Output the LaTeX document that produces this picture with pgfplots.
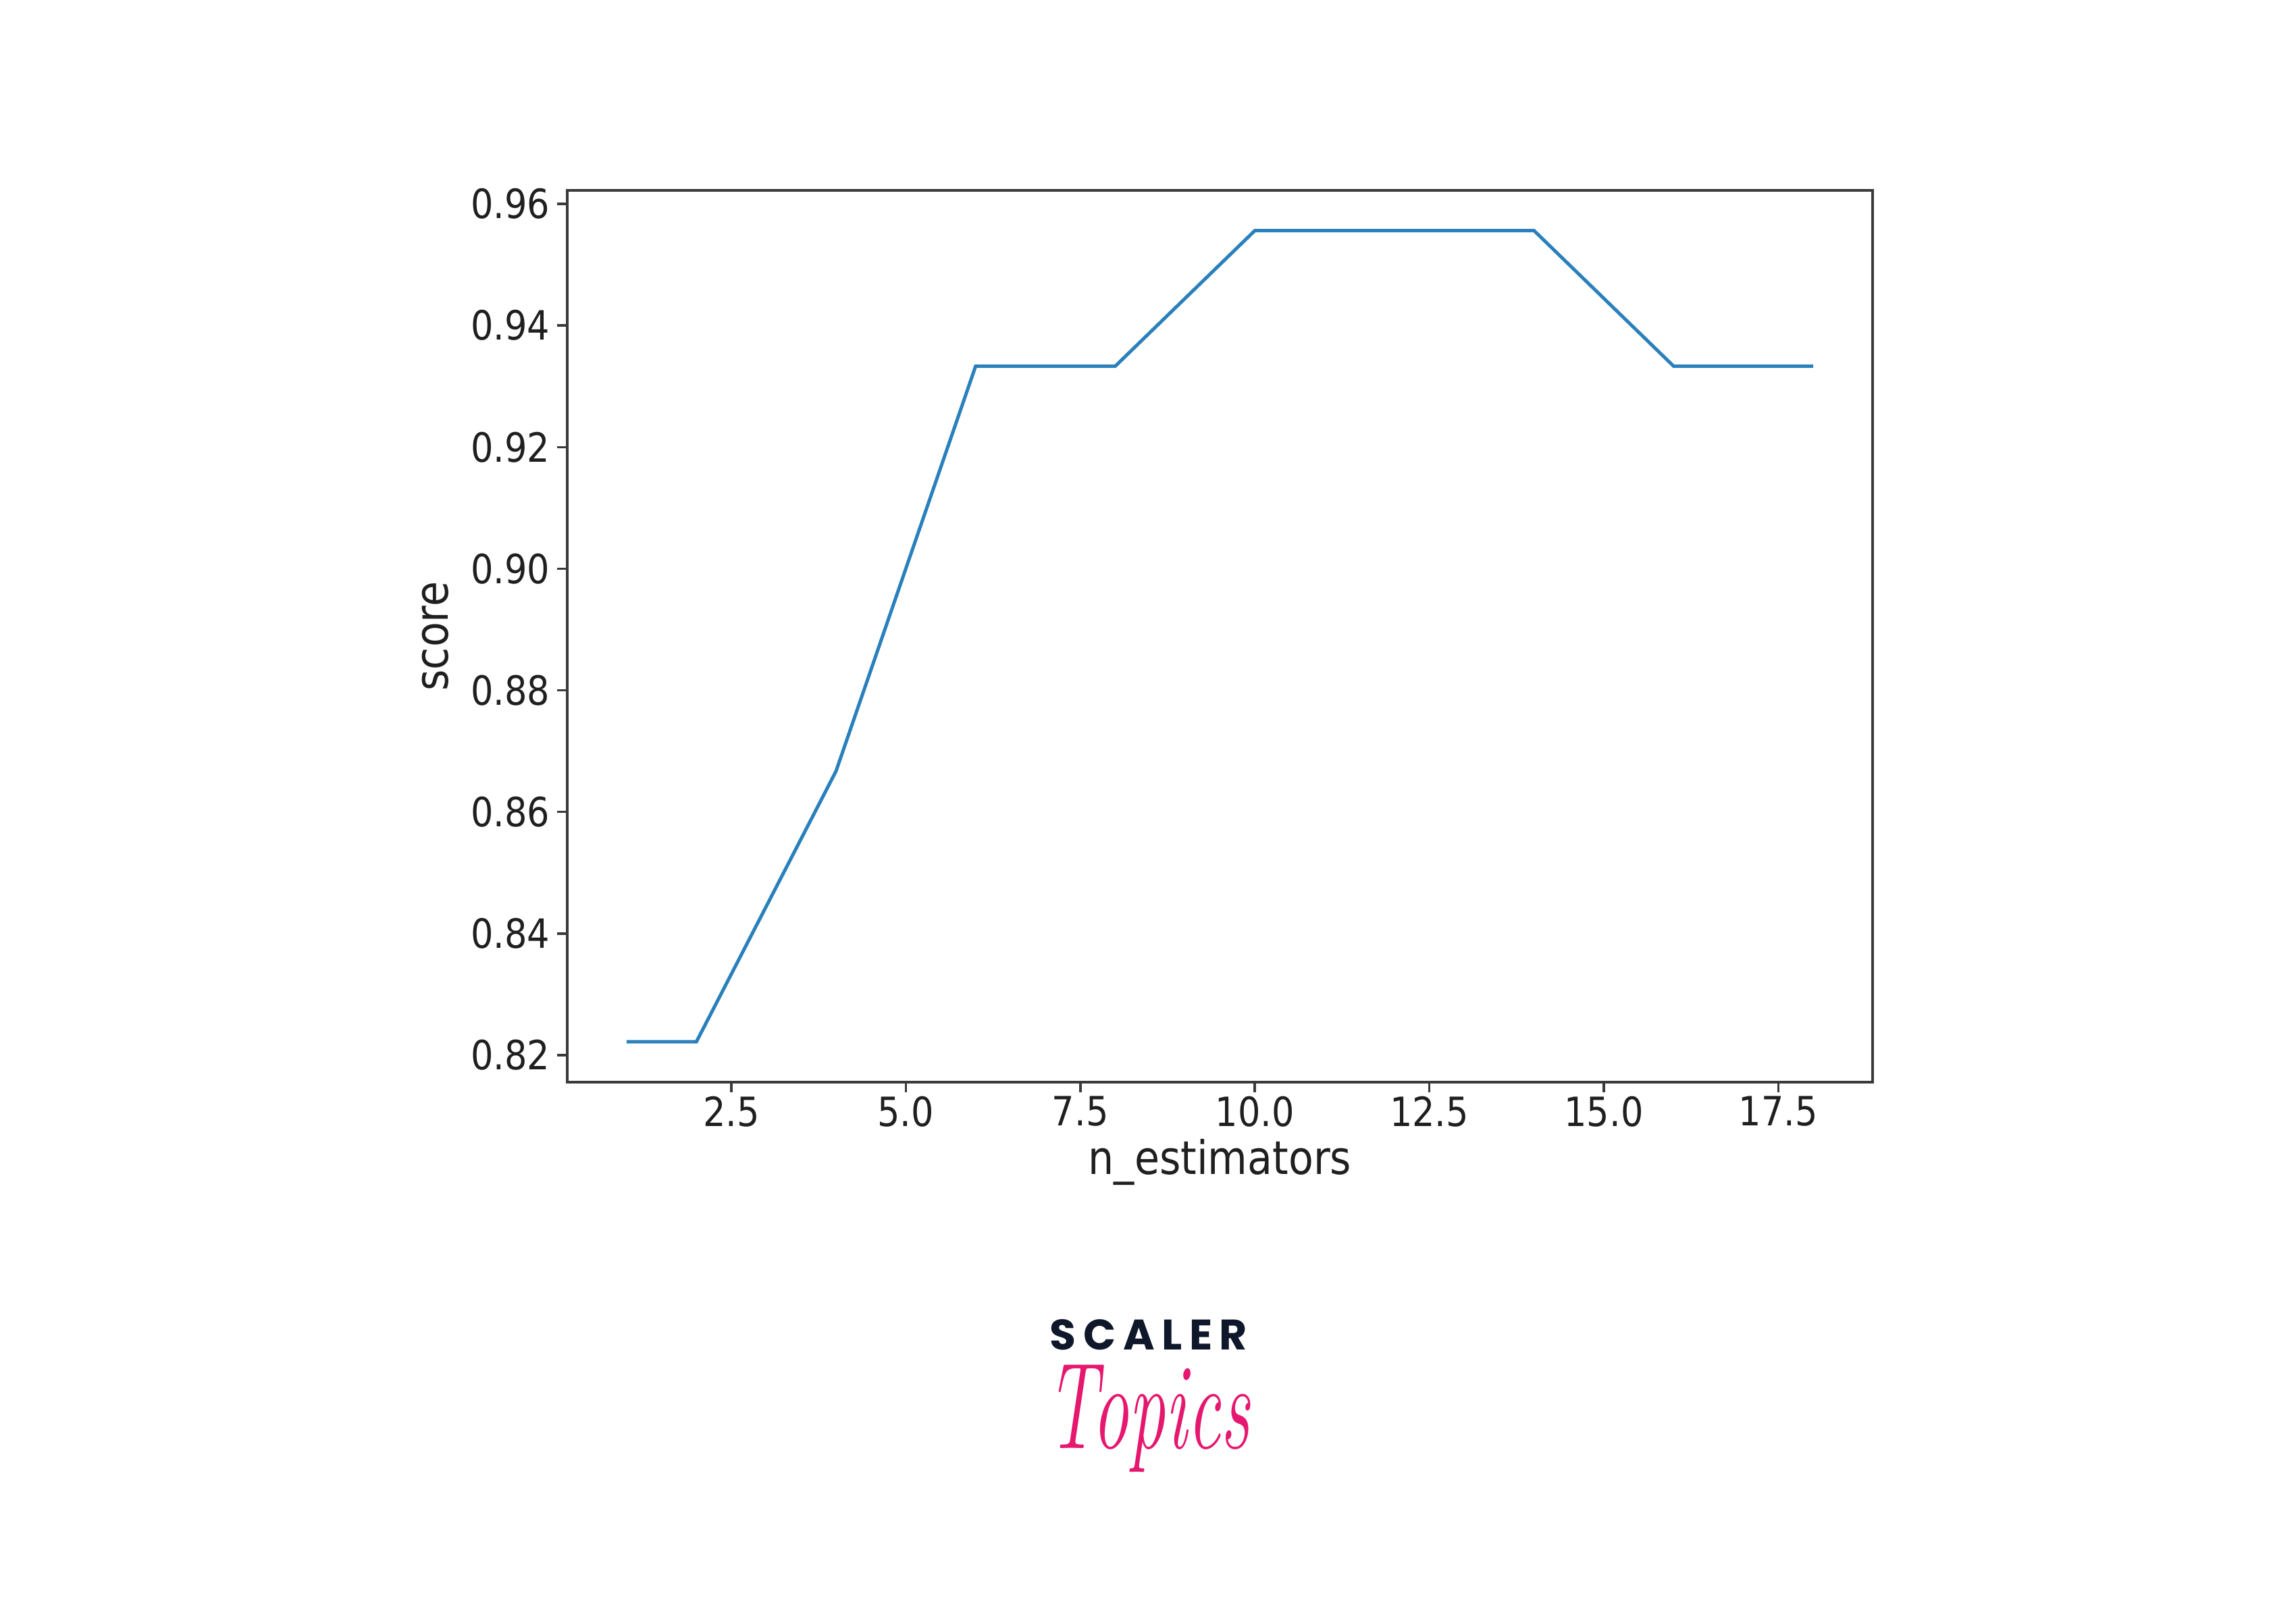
\documentclass[border=0pt]{standalone}
\usepackage{pgfplots}
\pgfplotsset{compat=1.18}
\usepackage{graphicx}
\usepackage{fontspec}
\newfontfamily\plotfont[FakeStretch=0.88]{DejaVu Sans}
\newfontfamily\logofont{Poppins}
\definecolor{mplblue}{HTML}{2A80BC}
\definecolor{spine}{HTML}{3A3A3A}
\definecolor{scalernavy}{HTML}{0F172A}
\definecolor{topicspink}{HTML}{E5176F}
\begin{document}
\begin{tikzpicture}
\useasboundingbox (0,0) rectangle (340mm,237.5mm);
\begin{axis}[
  at={(84mm,77.2mm)}, anchor=south west,
  scale only axis,
  width=193.3mm, height=132.1mm,
  xmin=0.15, xmax=18.85,
  ymin=0.81556, ymax=0.96222,
  xtick={2.5,5,...,17.5},
  ytick={0.82,0.84,...,0.961},
  tick align=outside,
  major tick length=1.5mm,
  xtick pos=bottom, ytick pos=left,
  axis line style={spine, line width=0.4mm},
  tick style={spine, line width=0.35mm},
  font=\plotfont,
  /pgf/number format/assume math mode=true,
  xticklabel style={/pgf/number format/fixed, /pgf/number format/fixed zerofill, /pgf/number format/precision=1,
    font=\plotfont\fontsize{17pt}{20pt}\selectfont, inner sep=0pt, yshift=-0.5mm, text=black!88},
  yticklabel style={/pgf/number format/fixed, /pgf/number format/fixed zerofill, /pgf/number format/precision=2,
    font=\plotfont\fontsize{17pt}{20pt}\selectfont, inner sep=0pt, xshift=-1mm, text=black!88},
  xlabel={n\_estimators},
  ylabel={score},
  xlabel style={font=\plotfont\fontsize{19.5pt}{22pt}\selectfont, at={(rel axis cs:0.5,0)}, anchor=base, yshift=-13.7mm, inner sep=0pt, text=black!88},
  ylabel style={font=\plotfont\fontsize{19.5pt}{22pt}\selectfont, at={(rel axis cs:0,0.5)}, anchor=base, yshift=17.7mm, inner sep=0pt, text=black!88},
]
\addplot[mplblue, line width=0.5mm] coordinates {
  (1,0.8222) (2,0.8222) (4,0.8667) (6,0.9333) (8,0.9333)
  (10,0.9556) (12,0.9556) (14,0.9556) (16,0.9333) (18,0.9333)
};
\end{axis}
\node[font=\logofont\bfseries\fontsize{18pt}{20pt}\selectfont, text=scalernavy, inner sep=0pt] at (170.1mm,39.8mm) {S\,C\,A\,L\,E\,R};
\node[text=topicspink, inner sep=0pt, anchor=base] at (170mm,23mm)
  {\scalebox{1.1}[1.85]{\fontsize{28pt}{30pt}\selectfont\itshape Topics}};
\end{tikzpicture}
\end{document}
